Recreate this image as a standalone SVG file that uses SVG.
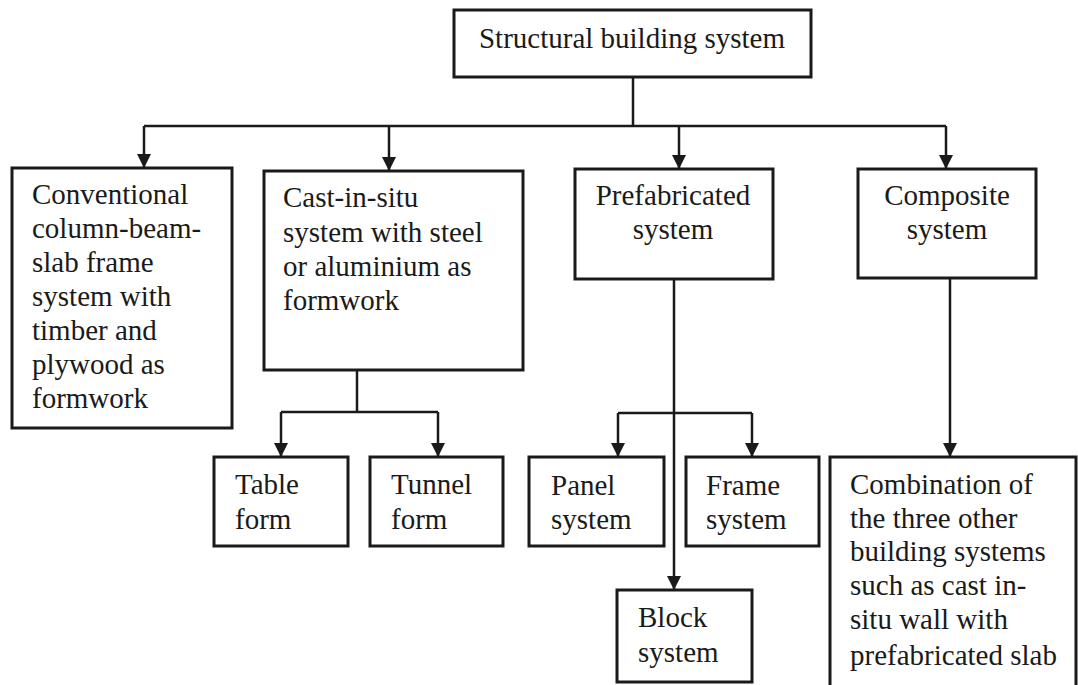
<svg xmlns="http://www.w3.org/2000/svg" width="1078" height="685" viewBox="0 0 1078 685">
<style>
.box{fill:#fff;stroke:#1a1a1a;stroke-width:3}
.t{font-family:"Liberation Serif","Times New Roman",serif;font-size:29px;fill:#1a1a1a}
.c{text-anchor:middle}
.ln{fill:none;stroke:#1a1a1a;stroke-width:2.5}
</style>
<defs>
<marker id="ah" markerUnits="userSpaceOnUse" markerWidth="16" markerHeight="14" refX="14" refY="7" orient="auto">
<path d="M0,0 L14,7 L0,14 Z" fill="#1a1a1a"/>
</marker>
</defs>
<rect width="1078" height="685" fill="#fff"/>
<g id="connectors">
<path class="ln" d="M633,77 V126"/>
<path class="ln" d="M144,126 H946"/>
<path class="ln" d="M144,126 V168" marker-end="url(#ah)"/>
<path class="ln" d="M389,126 V171" marker-end="url(#ah)"/>
<path class="ln" d="M679,126 V169" marker-end="url(#ah)"/>
<path class="ln" d="M946,126 V169" marker-end="url(#ah)"/>
<path class="ln" d="M357,370 V412"/>
<path class="ln" d="M281,412 H438"/>
<path class="ln" d="M281,412 V457" marker-end="url(#ah)"/>
<path class="ln" d="M438,412 V457" marker-end="url(#ah)"/>
<path class="ln" d="M674,279 V590" marker-end="url(#ah)"/>
<path class="ln" d="M618,413 H752"/>
<path class="ln" d="M618,413 V457" marker-end="url(#ah)"/>
<path class="ln" d="M752,413 V457" marker-end="url(#ah)"/>
<path class="ln" d="M950,278 V457" marker-end="url(#ah)"/>
</g>
<g id="root">
<rect class="box" x="454" y="10" width="357" height="67"/>
<text class="t c" x="632" y="48">Structural building system</text>
</g>
<g id="conventional">
<rect class="box" x="12" y="168" width="220" height="260"/>
<text class="t" x="32"><tspan x="32" y="204">Conventional</tspan><tspan x="32" y="238">column-beam-</tspan><tspan x="32" y="272">slab frame</tspan><tspan x="32" y="306">system with</tspan><tspan x="32" y="340">timber and</tspan><tspan x="32" y="374">plywood as</tspan><tspan x="32" y="408">formwork</tspan></text>
</g>
<g id="castinsitu">
<rect class="box" x="264" y="171" width="259" height="199"/>
<text class="t" x="283"><tspan x="283" y="207">Cast-in-situ</tspan><tspan x="283" y="242">system with steel</tspan><tspan x="283" y="276">or aluminium as</tspan><tspan x="283" y="310">formwork</tspan></text>
</g>
<g id="prefabricated">
<rect class="box" x="575" y="169" width="198" height="110"/>
<text class="t c" x="673"><tspan x="673" y="205">Prefabricated</tspan><tspan x="673" y="239">system</tspan></text>
</g>
<g id="composite">
<rect class="box" x="858" y="169" width="178" height="109"/>
<text class="t c" x="947"><tspan x="947" y="205">Composite</tspan><tspan x="947" y="239">system</tspan></text>
</g>
<g id="table">
<rect class="box" x="214" y="457" width="134" height="89"/>
<text class="t" x="235"><tspan x="235" y="494">Table</tspan><tspan x="235" y="529">form</tspan></text>
</g>
<g id="tunnel">
<rect class="box" x="370" y="457" width="133" height="89"/>
<text class="t" x="391"><tspan x="391" y="494">Tunnel</tspan><tspan x="391" y="529">form</tspan></text>
</g>
<g id="panel">
<rect class="box" x="529" y="457" width="135" height="89"/>
<text class="t" x="551"><tspan x="551" y="495">Panel</tspan><tspan x="551" y="529">system</tspan></text>
</g>
<g id="frame">
<rect class="box" x="686" y="457" width="133" height="89"/>
<text class="t" x="706"><tspan x="706" y="495">Frame</tspan><tspan x="706" y="529">system</tspan></text>
</g>
<g id="block">
<rect class="box" x="617" y="590" width="135" height="92"/>
<text class="t" x="638"><tspan x="638" y="627">Block</tspan><tspan x="638" y="662">system</tspan></text>
</g>
<g id="combination">
<path class="box" d="M830,690 V457 H1076 V690"/>
<text class="t" x="850"><tspan x="850" y="494">Combination of</tspan><tspan x="850" y="528">the three other</tspan><tspan x="850" y="561">building systems</tspan><tspan x="850" y="595">such as cast in-</tspan><tspan x="850" y="629">situ wall with</tspan><tspan x="850" y="665">prefabricated slab</tspan></text>
</g>
</svg>
